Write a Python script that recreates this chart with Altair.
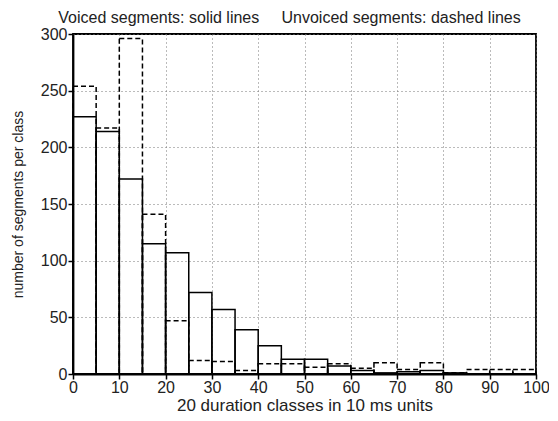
import altair as alt
import pandas as pd

bin_start = [0, 5, 10, 15, 20, 25, 30, 35, 40, 45, 50, 55, 60, 65, 70, 75, 80, 85, 90, 95]
voiced = [227, 214, 172, 115, 107, 72, 57, 39, 25, 13, 13, 7, 3, 1, 2, 3, 1, 0, 0, 0]
unvoiced = [254, 217, 296, 141, 47, 12, 11, 3, 9, 9, 6, 9, 5, 10, 4, 10, 1, 4, 4, 4]
bin_width = 5

x_ticks = list(range(0, 101, 10))
y_ticks = list(range(0, 301, 50))

FONT = "Liberation Sans"

df_v = pd.DataFrame({"start": bin_start, "end": [b + bin_width for b in bin_start], "count": voiced})
df_u = pd.DataFrame({"start": bin_start, "end": [b + bin_width for b in bin_start], "count": unvoiced})

x_enc = alt.X("start:Q", scale=alt.Scale(domain=[0, 100], nice=False),
              axis=alt.Axis(values=x_ticks, title="20 duration classes in 10 ms units",
                            grid=True, gridDash=[1, 3], gridColor="#777777", gridWidth=1,
                            titleFontSize=17, labelPadding=0, titlePadding=2))
y_enc = alt.Y("count:Q", scale=alt.Scale(domain=[0, 300], nice=False),
              axis=alt.Axis(values=y_ticks, title="number of segments per class",
                            grid=True, gridDash=[1, 3], gridColor="#777777", gridWidth=1,
                            titleFontSize=14, labelPadding=1, titlePadding=15))

unv = alt.Chart(df_u).mark_bar(fill="transparent", stroke="black", strokeWidth=1.5,
                               strokeDash=[5, 3]).encode(
    x=x_enc, x2="end:Q", y=y_enc, y2=alt.datum(0))

voi = alt.Chart(df_v).mark_bar(fill="transparent", stroke="black", strokeWidth=1.5).encode(
    x=alt.X("start:Q"), x2="end:Q", y=alt.Y("count:Q"), y2=alt.datum(0))

title_text = "Voiced segments: solid lines" + "\u00a0" * 5 + "Unvoiced segments: dashed lines"

chart = alt.layer(unv, voi).properties(
    width=463, height=340,
    autosize=alt.AutoSizeParams(type="none"),
    title=alt.TitleParams(title_text, font=FONT, fontSize=16, fontWeight="normal",
                          color="#222222", offset=0, anchor="middle", dx=-15),
    padding={"left": 65, "top": 26, "right": 13, "bottom": 41},
).configure_view(
    stroke="black", strokeWidth=1.8
).configure_axis(
    labelFont=FONT, labelFontSize=16, labelColor="#222222",
    titleFont=FONT, titleFontWeight="normal", titleColor="#222222",
    domainColor="black", domainWidth=1.8, tickColor="black", tickWidth=1.5, tickSize=5,
    labelFlush=False
)

chart.save("out.html", embed_options={"renderer": "svg", "actions": False})
